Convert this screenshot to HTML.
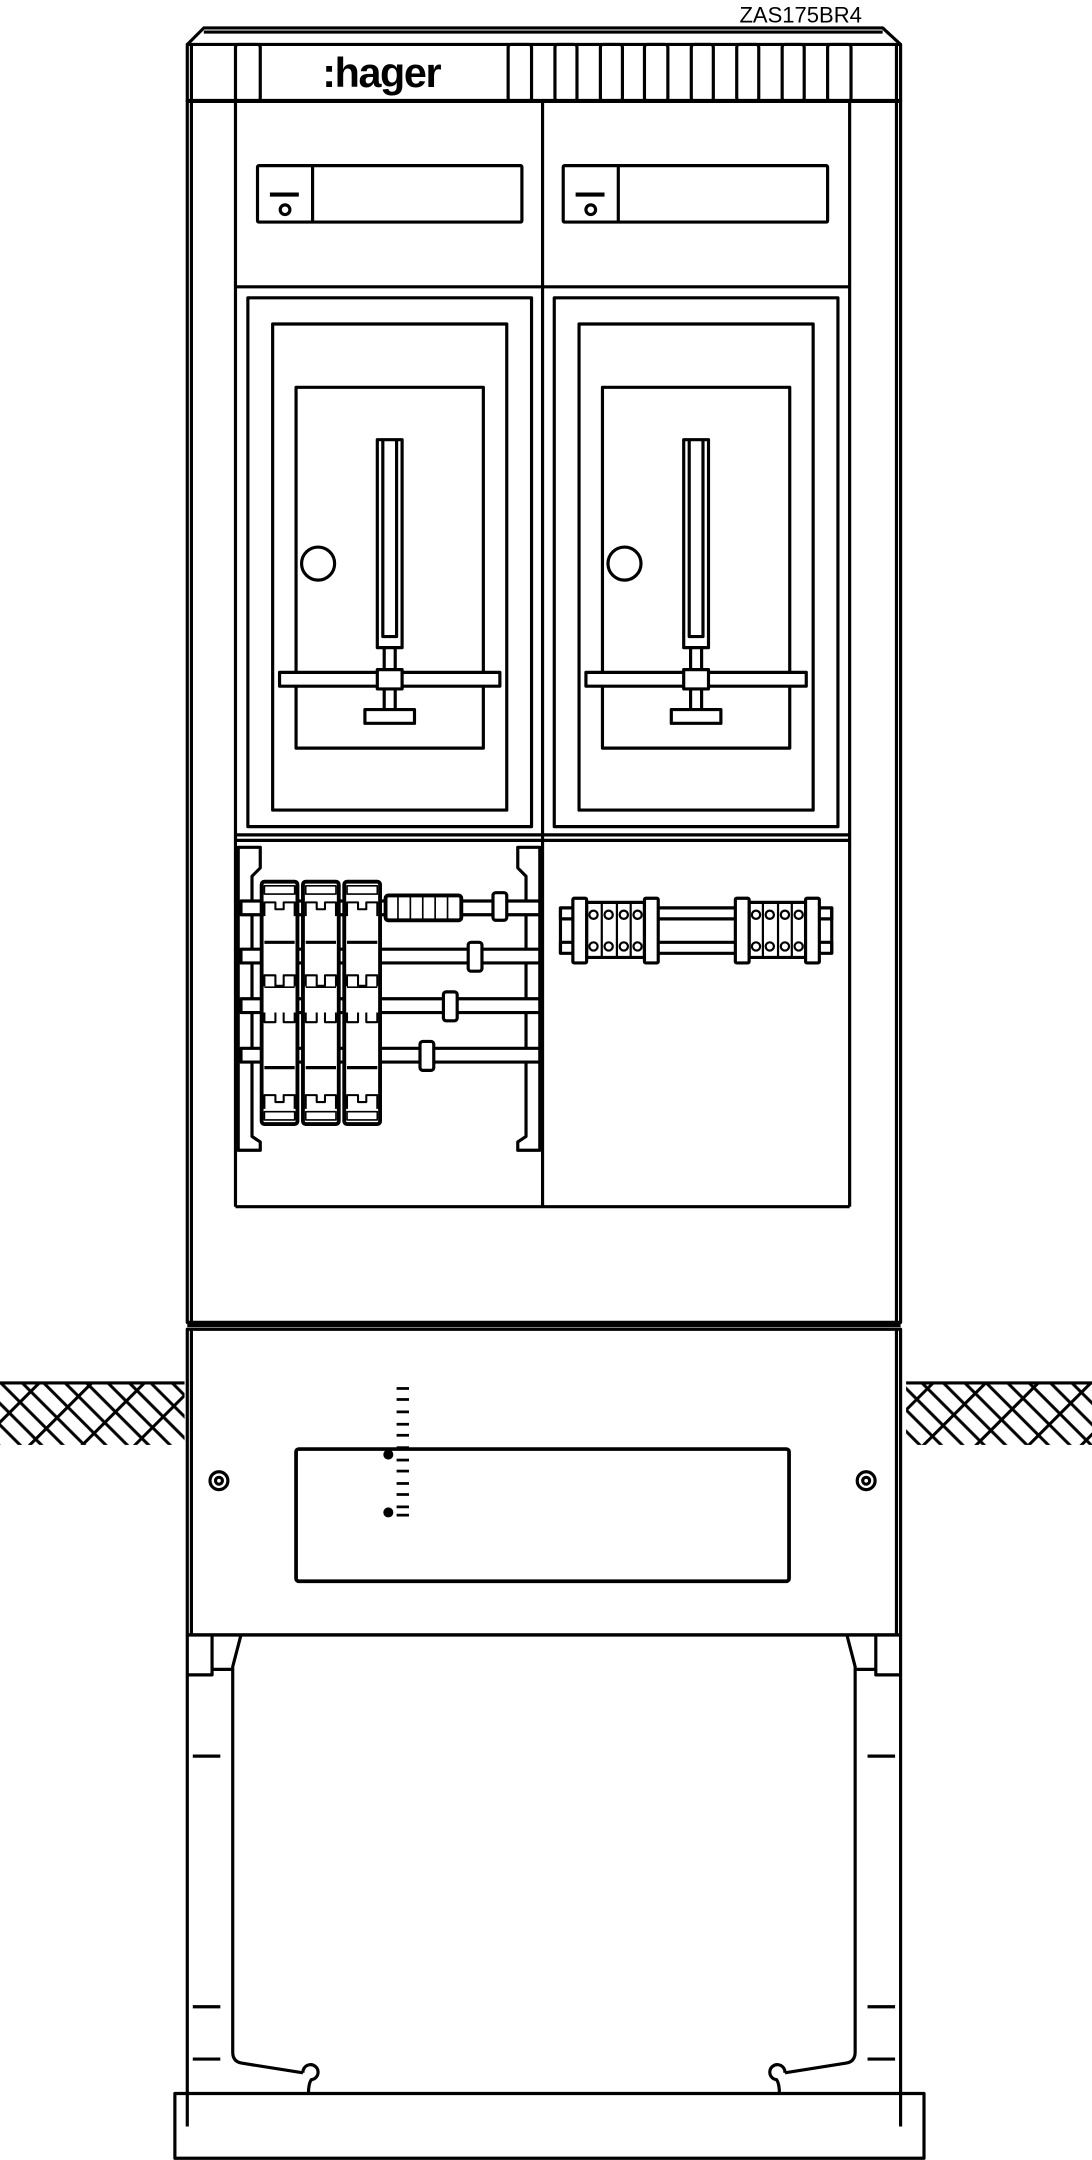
<!DOCTYPE html>
<html><head><meta charset="utf-8"><style>
html,body{margin:0;padding:0;background:#fff}
svg{display:block}
</style></head><body>
<svg width="1092" height="2160" viewBox="0 0 793 1568" xmlns="http://www.w3.org/2000/svg">
<defs>
<pattern id="h" width="11" height="27" patternUnits="userSpaceOnUse" patternTransform="rotate(-45)">
<line x1="0" y1="1" x2="11" y2="1" stroke="#000" stroke-width="2.4"/>
<line x1="5.5" y1="1" x2="5.5" y2="27" stroke="#000" stroke-width="2.2"/>
</pattern>
</defs>
<g fill="none" stroke="#000" stroke-width="2.3" stroke-linejoin="round">
<text x="537" y="16" font-family="Liberation Sans, sans-serif" font-size="16" fill="#000" stroke="none">ZAS175BR4</text>
<!-- ground -->
<rect x="0" y="1005" width="134" height="44" fill="url(#h)" stroke="none"/>
<rect x="658" y="1005" width="135" height="44" fill="url(#h)" stroke="none"/>
<line x1="0" y1="1004" x2="134" y2="1004"/>
<line x1="658" y1="1004" x2="793" y2="1004"/>
<!-- cap -->
<path d="M136 32 L148 20 L641 20 L654 32"/>
<line x1="148" y1="23" x2="641" y2="23"/>
<rect x="136" y="32" width="518" height="41"/>
<line x1="139" y1="32" x2="139" y2="73"/><line x1="651" y1="32" x2="651" y2="73"/>
<line x1="136" y1="73" x2="654" y2="73" stroke-width="3"/>
<rect x="171" y="32" width="18" height="41" rx="2"/>
<g>
<rect x="369" y="32" width="17" height="41" rx="2"/><rect x="403" y="32" width="16" height="41" rx="2"/>
<rect x="436" y="32" width="16" height="41" rx="2"/><rect x="468" y="32" width="17" height="41" rx="2"/>
<rect x="502" y="32" width="16" height="41" rx="2"/><rect x="535" y="32" width="16" height="41" rx="2"/>
<rect x="568" y="32" width="16" height="41" rx="2"/><rect x="601" y="32" width="17" height="41" rx="2"/>
</g>
<text x="234" y="63" font-family="Liberation Sans, sans-serif" font-weight="bold" font-size="30" fill="#000" stroke="none" letter-spacing="-1">:hager</text>
<!-- body -->
<rect x="136" y="73" width="518" height="887"/>
<line x1="139" y1="73" x2="139" y2="960"/><line x1="651" y1="73" x2="651" y2="960"/>
<line x1="171" y1="73" x2="171" y2="876"/><line x1="617" y1="73" x2="617" y2="876"/>
<line x1="394" y1="73" x2="394" y2="876"/>
<line x1="171" y1="876" x2="617" y2="876"/>
<line x1="171" y1="208" x2="617" y2="208"/>
<line x1="171" y1="606" x2="617" y2="606"/><line x1="171" y1="610" x2="617" y2="610"/>
<!-- meter boxes -->
<g id="mb">
<rect x="187" y="120" width="192" height="41" rx="1"/>
<line x1="227" y1="120" x2="227" y2="161"/>
<line x1="196" y1="141" x2="217" y2="141" stroke-width="3"/>
<circle cx="207" cy="152" r="3.5"/>
</g>
<use href="#mb" x="222"/>
<!-- frames -->
<g id="fr">
<rect x="180" y="216" width="206" height="384"/>
<rect x="198" y="235" width="170" height="353"/>
<rect x="215" y="281" width="136" height="262"/>
<circle cx="231" cy="409" r="12"/>
<rect x="274" y="319" width="18" height="151"/>
<path d="M278 319 V462 H288 V319"/>
<line x1="279" y1="470" x2="279" y2="515"/><line x1="287" y1="470" x2="287" y2="515"/>
<rect x="203" y="488" width="160" height="10" fill="#fff"/>
<rect x="274" y="486" width="18" height="14" fill="#fff"/>
<rect x="265" y="515" width="36" height="10" fill="#fff"/>
</g>
<use href="#fr" x="222.5"/>
<!-- left DIN section -->
<path d="M173 615 H189 V630 L183 636 V825 L189 829 V835 H173 Z"/>
<path d="M392 615 H376 V630 L382 636 V825 L376 829 V835 H392 Z"/>
<g fill="#fff">
<rect x="175" y="654" width="217" height="10"/>
<rect x="175" y="689" width="217" height="10"/>
<rect x="175" y="725" width="217" height="10"/>
<rect x="175" y="761" width="217" height="10"/>
</g>
<g id="br" fill="#fff">
<rect x="190" y="640" width="26" height="176" rx="2" stroke-width="2.8"/>
<rect x="192" y="643" width="22" height="6" fill="none" stroke-width="1.2"/>
<path d="M192 665 V655 H200 V660 H206 V655 H214 V665" stroke-width="1.5"/>
<line x1="192" y1="684" x2="214" y2="684"/>
<line x1="192" y1="716" x2="214" y2="716"/>
<path d="M192 716 V708 H200 V716 M206 716 V708 H214 V716" stroke-width="1.5"/>
<path d="M192 735 V742 H200 V735 M206 735 V742 H214 V735" stroke-width="1.5"/>
<line x1="192" y1="775" x2="214" y2="775"/>
<path d="M192 805 V795 H200 V800 H206 V795 H214 V805" stroke-width="1.5"/>
<rect x="192" y="807" width="22" height="6" fill="none" stroke-width="1.2"/>
</g>
<use href="#br" x="30"/><use href="#br" x="60"/>
<rect x="280" y="650" width="55" height="18" rx="2" fill="#fff" stroke-width="2.8"/>
<g stroke-width="1.2"><line x1="289" y1="650" x2="289" y2="668"/><line x1="298" y1="650" x2="298" y2="668"/><line x1="307" y1="650" x2="307" y2="668"/><line x1="316" y1="650" x2="316" y2="668"/><line x1="325" y1="650" x2="325" y2="668"/></g>
<g fill="#fff">
<rect x="358" y="648" width="10" height="20" rx="2"/>
<rect x="340" y="684" width="10" height="21" rx="2"/>
<rect x="322" y="720" width="10" height="21" rx="2"/>
<rect x="305" y="756" width="10" height="21" rx="2"/>
</g>
<!-- right terminal section -->
<rect x="407" y="659" width="197" height="8" fill="#fff"/>
<rect x="407" y="684" width="197" height="8" fill="#fff"/>
<line x1="407" y1="659" x2="407" y2="692"/><line x1="604" y1="659" x2="604" y2="692"/>
<g fill="#fff">
<rect x="426" y="655" width="42" height="40"/>
<rect x="544" y="655" width="41" height="40"/>
<rect x="416" y="652" width="10" height="47" rx="1"/>
<rect x="468" y="652" width="10" height="47" rx="1"/>
<rect x="534" y="652" width="10" height="47" rx="1"/>
<rect x="585" y="652" width="10" height="47" rx="1"/>
</g>
<g stroke-width="1.6">
<circle cx="431" cy="664" r="3"/><circle cx="442" cy="664" r="3"/><circle cx="453" cy="664" r="3"/><circle cx="463" cy="664" r="3"/>
<circle cx="431" cy="687" r="3"/><circle cx="442" cy="687" r="3"/><circle cx="453" cy="687" r="3"/><circle cx="463" cy="687" r="3"/>
<circle cx="549" cy="664" r="3"/><circle cx="559" cy="664" r="3"/><circle cx="570" cy="664" r="3"/><circle cx="580" cy="664" r="3"/>
<circle cx="549" cy="687" r="3"/><circle cx="559" cy="687" r="3"/><circle cx="570" cy="687" r="3"/><circle cx="580" cy="687" r="3"/>
<line x1="437" y1="655" x2="437" y2="695"/><line x1="448" y1="655" x2="448" y2="695"/><line x1="458" y1="655" x2="458" y2="695"/>
<line x1="554" y1="655" x2="554" y2="695"/><line x1="565" y1="655" x2="565" y2="695"/><line x1="575" y1="655" x2="575" y2="695"/>
</g>
<!-- plinth panel -->
<line x1="136" y1="962" x2="654" y2="962" stroke-width="3"/>
<rect x="136" y="965" width="518" height="222"/>
<line x1="139" y1="965" x2="139" y2="1187"/><line x1="651" y1="965" x2="651" y2="1187"/>
<line x1="136" y1="1187" x2="654" y2="1187" stroke-width="2.5"/>
<circle cx="159" cy="1075" r="6.5"/><circle cx="159" cy="1075" r="2.5"/>
<circle cx="629" cy="1075" r="6.5"/><circle cx="629" cy="1075" r="2.5"/>
<rect x="215" y="1052" width="358" height="96" rx="2" stroke-width="2.7"/>
<g stroke-width="2">
<line x1="288" y1="1008" x2="297" y2="1008"/><line x1="288" y1="1016" x2="297" y2="1016"/><line x1="288" y1="1025" x2="297" y2="1025"/><line x1="288" y1="1034" x2="297" y2="1034"/><line x1="288" y1="1042" x2="297" y2="1042"/><line x1="288" y1="1051" x2="297" y2="1051"/><line x1="288" y1="1060" x2="297" y2="1060"/><line x1="288" y1="1068" x2="297" y2="1068"/><line x1="288" y1="1077" x2="297" y2="1077"/><line x1="288" y1="1085" x2="297" y2="1085"/><line x1="288" y1="1094" x2="297" y2="1094"/><line x1="288" y1="1100" x2="297" y2="1100"/>
</g>
<circle cx="282" cy="1056" r="2.5" fill="#000"/><circle cx="282" cy="1098" r="2.5" fill="#000"/>
<!-- legs -->
<g id="leg">
<line x1="136" y1="1187" x2="136" y2="1544"/>
<path d="M136 1216 H154 V1187"/>
<path d="M154 1212 H169"/>
<path d="M175 1187 L169 1210 V1490 Q169 1497 176 1498 L220 1505"/>
<path d="M220 1505 A5.5 5.5 0 1 1 226 1510 Q224 1513 224 1520"/>
<line x1="140" y1="1275" x2="160" y2="1275"/>
<line x1="140" y1="1457" x2="160" y2="1457"/>
<line x1="140" y1="1495" x2="160" y2="1495"/>
</g>
<use href="#leg" transform="translate(790,0) scale(-1,1)"/>
<rect x="127" y="1520" width="544" height="47"/>
</g>
</svg>
</body></html>
